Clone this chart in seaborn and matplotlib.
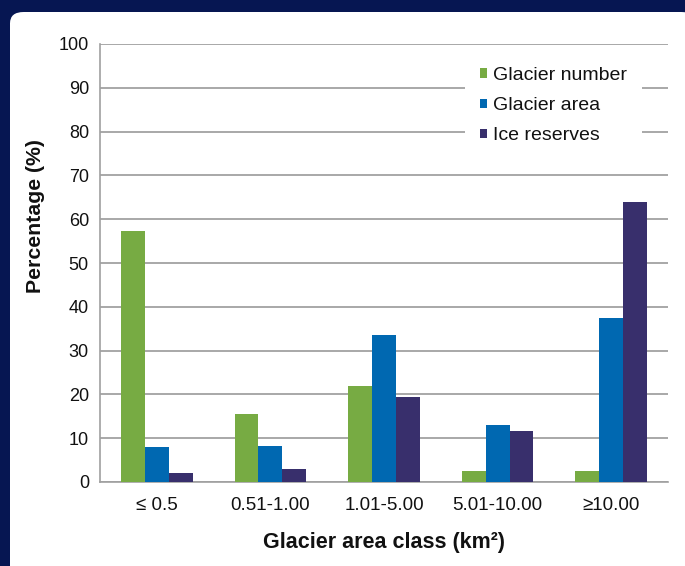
import matplotlib
matplotlib.use("Agg")
import matplotlib.pyplot as plt
from matplotlib.patches import FancyBboxPatch, Patch
import pandas as pd
import seaborn as sns

sns.set_style("white")
plt.rcParams["font.family"] = ["Liberation Sans", "DejaVu Sans"]

classes = ["\u2264 0.5", "0.51-1.00", "1.01-5.00", "5.01-10.00", "\u226510.00"]
glacier_number = [57.3, 15.5, 22.0, 2.5, 2.5]
glacier_area = [8.0, 8.3, 33.5, 13.0, 37.5]
ice_reserves = [2.0, 3.0, 19.5, 11.7, 64.0]
series = ["Glacier number", "Glacier area", "Ice reserves"]
palette = ["#77ab43", "#0068b1", "#382f6c"]

rows = []
for name, vals in zip(series, [glacier_number, glacier_area, ice_reserves]):
    for c, v in zip(classes, vals):
        rows.append({"Class": c, "Series": name, "Value": v})
data = pd.DataFrame(rows)

fig = plt.figure(figsize=(6.85, 5.66), dpi=100)
fig.patch.set_facecolor("#061652")
# white rounded panel behind the axes
panel = FancyBboxPatch((10 / 685, -0.05), 1.0, 1.05 - 12 / 566,
                       boxstyle="round,pad=0,rounding_size=0.02",
                       transform=fig.transFigure, facecolor="white",
                       edgecolor="none", zorder=-5)
fig.patches.append(panel)

ax = fig.add_axes([100 / 685, 1 - 482 / 566, (668 - 100) / 685, (482 - 44) / 566])
ax.set_zorder(2)
ax.set_facecolor("white")

sns.barplot(
    x="Class", y="Value", hue="Series", data=data,
    palette=palette, width=0.63, gap=0, saturation=1,
    edgecolor="none", ax=ax, zorder=3
)

ax.set_ylim(0, 100)
ax.set_xlim(-0.5, 4.5)
ax.set_yticks(range(0, 101, 10))
ax.yaxis.grid(True, color="#a8a8a8", linewidth=1.4, zorder=0)
ax.set_axisbelow(True)
for s in ["top", "right"]:
    ax.spines[s].set_visible(False)
for s in ["left", "bottom"]:
    ax.spines[s].set_color("#a0a0a0")
    ax.spines[s].set_linewidth(1.2)

ax.tick_params(axis="y", length=4, width=1, color="#a0a0a0", labelsize=13,
               labelcolor="#111111", pad=4)
ax.tick_params(axis="x", which="major", length=0, labelsize=13.5,
               labelcolor="#111111", pad=11)
ax.set_xticks([i + 0.5 for i in range(-1, 5)], minor=True)
ax.tick_params(axis="x", which="minor", length=4, width=1, color="#a0a0a0",
               direction="out")

ax.set_xlabel("Glacier area class (km\u00b2)", fontsize=15.5, fontweight="bold",
              color="#111111", labelpad=13)
ax.set_ylabel("Percentage (%)", fontsize=15.3, fontweight="bold",
              color="#111111")
# Excel puts the y title above the middle of the axis
ax.yaxis.set_label_coords(-0.097, 0.607)

handles = [Patch(facecolor=c, edgecolor="none") for c in palette]
leg = ax.legend(handles, series, loc="upper left", bbox_to_anchor=(0.643, 0.982),
                borderaxespad=0, frameon=True, fontsize=14,
                handlelength=0.36, handleheight=0.36, handletextpad=0.3,
                labelspacing=0.68, borderpad=0.78, fancybox=False)
leg.get_frame().set_facecolor("white")
leg.get_frame().set_edgecolor("none")
leg.get_frame().set_alpha(1)
leg.set_zorder(5)
for t in leg.get_texts():
    t.set_color("#111111")

fig.savefig("out.png", dpi=100, facecolor=fig.get_facecolor())
